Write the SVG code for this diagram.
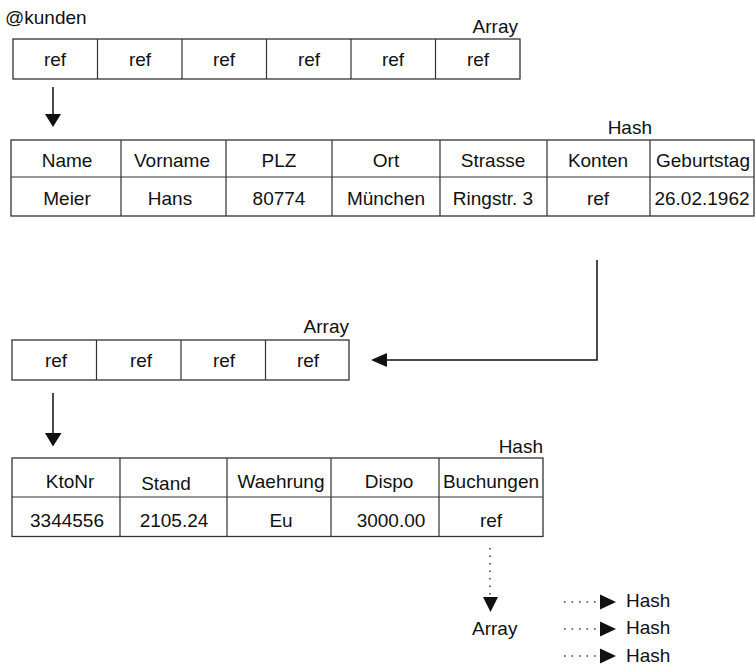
<svg xmlns="http://www.w3.org/2000/svg" width="755" height="665" viewBox="0 0 755 665">
<style>
text{font-family:"Liberation Sans",Arial,sans-serif;font-size:19px;fill:#111}
.c{text-anchor:middle}
.r{text-anchor:end}
.box{fill:#fff;stroke:#333;stroke-width:1.3}
.div{stroke:#333;stroke-width:1.2}
.ln{stroke:#111;stroke-width:1.5;fill:none}
.dot{stroke:#444;stroke-width:1.6;fill:none;stroke-dasharray:1.6,5.9}
.hd{fill:#111}
</style>
<rect width="755" height="665" fill="#fff"/>

<g id="array1">
<text x="5" y="24">@kunden</text>
<text class="r" x="518" y="33">Array</text>
<rect class="box" x="13" y="39" width="507" height="40"/>
<path class="div" d="M97.5 39V79M182 39V79M266.5 39V79M351 39V79M435.5 39V79"/>
<text class="c" x="55" y="66">ref</text>
<text class="c" x="140" y="66">ref</text>
<text class="c" x="224" y="66">ref</text>
<text class="c" x="309" y="66">ref</text>
<text class="c" x="393" y="66">ref</text>
<text class="c" x="478" y="66">ref</text>
</g>

<g id="hash1">
<text class="r" x="652" y="134">Hash</text>
<rect class="box" x="11" y="140" width="743" height="76"/>
<path class="div" d="M11 177H754M121 140V216M226 140V216M332 140V216M440 140V216M547 140V216M650 140V216"/>
<text class="c" x="67" y="167">Name</text>
<text class="c" x="172" y="167">Vorname</text>
<text class="c" x="279" y="167">PLZ</text>
<text class="c" x="386" y="167">Ort</text>
<text class="c" x="493" y="167">Strasse</text>
<text class="c" x="598" y="167">Konten</text>
<text class="c" x="703" y="167">Geburtstag</text>
<text class="c" x="67" y="205">Meier</text>
<text class="c" x="170" y="205">Hans</text>
<text class="c" x="279" y="205">80774</text>
<text class="c" x="386" y="205">München</text>
<text class="c" x="493" y="205">Ringstr. 3</text>
<text class="c" x="598" y="205">ref</text>
<text class="c" x="702" y="205">26.02.1962</text>
</g>

<g id="array2">
<text class="r" x="349" y="333">Array</text>
<rect class="box" x="12" y="340" width="337" height="40"/>
<path class="div" d="M96.5 340V380M181 340V380M265.5 340V380"/>
<text class="c" x="56" y="367">ref</text>
<text class="c" x="141" y="367">ref</text>
<text class="c" x="224" y="367">ref</text>
<text class="c" x="308" y="367">ref</text>
</g>

<g id="hash2">
<text class="r" x="543" y="453">Hash</text>
<rect class="box" x="12" y="458" width="531" height="78.5"/>
<path class="div" d="M12 497H543M120 458V536.5M227 458V536.5M331 458V536.5M439 458V536.5"/>
<text class="c" x="70" y="488">KtoNr</text>
<text class="c" x="166" y="490">Stand</text>
<text class="c" x="281" y="488">Waehrung</text>
<text class="c" x="389" y="488">Dispo</text>
<text class="c" x="491" y="488">Buchungen</text>
<text class="c" x="67" y="527">3344556</text>
<text class="c" x="174" y="527">2105.24</text>
<text class="c" x="281" y="527">Eu</text>
<text class="c" x="391" y="527">3000.00</text>
<text class="c" x="491" y="527">ref</text>
</g>

<g id="tail">
<text x="472" y="635">Array</text>
<text x="626" y="607">Hash</text>
<text x="626" y="634">Hash</text>
<text x="626" y="662">Hash</text>
</g>

<g id="connectors">
<path class="ln" d="M53 87V115"/>
<path class="hd" d="M45 114H61L53 127Z"/>
<path class="ln" d="M597 260V360H385"/>
<path class="hd" d="M387 353V367L371 360Z"/>
<path class="ln" d="M53 393V434"/>
<path class="hd" d="M45 433H61.5L53 446.5Z"/>
<path class="dot" d="M490 548V597"/>
<path class="hd" d="M483 597H498L490.5 612Z"/>
<path class="dot" d="M564 602H600"/>
<path class="hd" d="M600 594.5V609.5L616 602Z"/>
<path class="dot" d="M564 629H600"/>
<path class="hd" d="M600 621.5V636.5L616 629Z"/>
<path class="dot" d="M564 656H600"/>
<path class="hd" d="M600 648.5V663.5L616 656Z"/>
</g>
</svg>
